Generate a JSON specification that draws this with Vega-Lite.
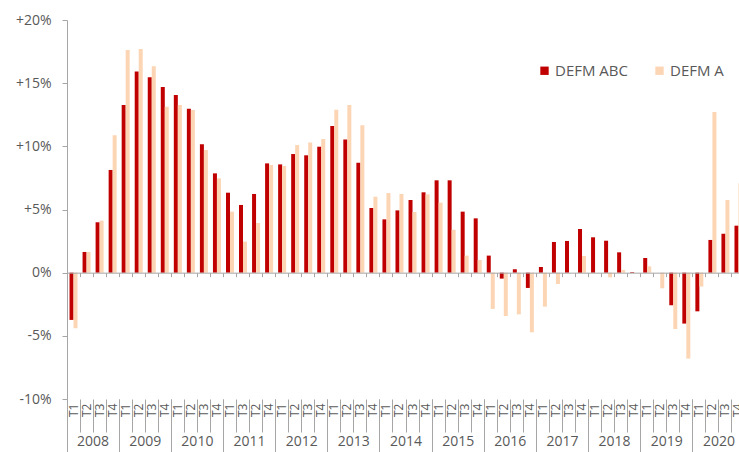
{
  "$schema": "https://vega.github.io/schema/vega-lite/v6.json",
  "autosize": {"type": "none"},
  "padding": {"left": 67, "top": 20, "right": 0, "bottom": 53},
  "width": 672,
  "height": 379,
  "config": {
    "view": {"stroke": null},
    "font": "Open Sans",
    "axis": {"labelFont": "Open Sans", "labelColor": "#595959", "domainColor": "#A6A6A6", "tickColor": "#A6A6A6", "grid": false, "title": null}
  },
  "data": {"values": [
    {"q":"2008 T1","year":"2008","series":"DEFM ABC","value":-3.74},
    {"q":"2008 T2","year":"2008","series":"DEFM ABC","value":1.64},
    {"q":"2008 T3","year":"2008","series":"DEFM ABC","value":3.99},
    {"q":"2008 T4","year":"2008","series":"DEFM ABC","value":8.13},
    {"q":"2009 T1","year":"2009","series":"DEFM ABC","value":13.27},
    {"q":"2009 T2","year":"2009","series":"DEFM ABC","value":15.93},
    {"q":"2009 T3","year":"2009","series":"DEFM ABC","value":15.46},
    {"q":"2009 T4","year":"2009","series":"DEFM ABC","value":14.69},
    {"q":"2010 T1","year":"2010","series":"DEFM ABC","value":14.06},
    {"q":"2010 T2","year":"2010","series":"DEFM ABC","value":12.98},
    {"q":"2010 T3","year":"2010","series":"DEFM ABC","value":10.16},
    {"q":"2010 T4","year":"2010","series":"DEFM ABC","value":7.86},
    {"q":"2011 T1","year":"2011","series":"DEFM ABC","value":6.33},
    {"q":"2011 T3","year":"2011","series":"DEFM ABC","value":5.36},
    {"q":"2011 T2","year":"2011","series":"DEFM ABC","value":6.23},
    {"q":"2011 T4","year":"2011","series":"DEFM ABC","value":8.65},
    {"q":"2012 T1","year":"2012","series":"DEFM ABC","value":8.57},
    {"q":"2012 T2","year":"2012","series":"DEFM ABC","value":9.39},
    {"q":"2012 T3","year":"2012","series":"DEFM ABC","value":9.29},
    {"q":"2012 T4","year":"2012","series":"DEFM ABC","value":9.97},
    {"q":"2013 T1","year":"2013","series":"DEFM ABC","value":11.6},
    {"q":"2013 T2","year":"2013","series":"DEFM ABC","value":10.55},
    {"q":"2013 T3","year":"2013","series":"DEFM ABC","value":8.7},
    {"q":"2013 T4","year":"2013","series":"DEFM ABC","value":5.12},
    {"q":"2014 T1","year":"2014","series":"DEFM ABC","value":4.22},
    {"q":"2014 T2","year":"2014","series":"DEFM ABC","value":4.93},
    {"q":"2014 T3","year":"2014","series":"DEFM ABC","value":5.75},
    {"q":"2014 T4","year":"2014","series":"DEFM ABC","value":6.36},
    {"q":"2015 T1","year":"2015","series":"DEFM ABC","value":7.31},
    {"q":"2015 T2","year":"2015","series":"DEFM ABC","value":7.31},
    {"q":"2015 T3","year":"2015","series":"DEFM ABC","value":4.83},
    {"q":"2015 T4","year":"2015","series":"DEFM ABC","value":4.3},
    {"q":"2016 T1","year":"2016","series":"DEFM ABC","value":1.35},
    {"q":"2016 T2","year":"2016","series":"DEFM ABC","value":-0.47},
    {"q":"2016 T3","year":"2016","series":"DEFM ABC","value":0.27},
    {"q":"2016 T4","year":"2016","series":"DEFM ABC","value":-1.21},
    {"q":"2017 T1","year":"2017","series":"DEFM ABC","value":0.45},
    {"q":"2017 T2","year":"2017","series":"DEFM ABC","value":2.43},
    {"q":"2017 T3","year":"2017","series":"DEFM ABC","value":2.51},
    {"q":"2017 T4","year":"2017","series":"DEFM ABC","value":3.46},
    {"q":"2018 T1","year":"2018","series":"DEFM ABC","value":2.8},
    {"q":"2018 T2","year":"2018","series":"DEFM ABC","value":2.53},
    {"q":"2018 T3","year":"2018","series":"DEFM ABC","value":1.61},
    {"q":"2018 T4","year":"2018","series":"DEFM ABC","value":0.05},
    {"q":"2019 T1","year":"2019","series":"DEFM ABC","value":1.16},
    {"q":"2019 T2","year":"2019","series":"DEFM ABC","value":0},
    {"q":"2019 T3","year":"2019","series":"DEFM ABC","value":-2.58},
    {"q":"2019 T4","year":"2019","series":"DEFM ABC","value":-4.03},
    {"q":"2020 T1","year":"2020","series":"DEFM ABC","value":-3.06},
    {"q":"2020 T2","year":"2020","series":"DEFM ABC","value":2.59},
    {"q":"2020 T3","year":"2020","series":"DEFM ABC","value":3.08},
    {"q":"2020 T4","year":"2020","series":"DEFM ABC","value":3.72},
    {"q":"2008 T1","year":"2008","series":"DEFM A","value":-4.4},
    {"q":"2008 T2","year":"2008","series":"DEFM A","value":1.64},
    {"q":"2008 T3","year":"2008","series":"DEFM A","value":4.12},
    {"q":"2008 T4","year":"2008","series":"DEFM A","value":10.87},
    {"q":"2009 T1","year":"2009","series":"DEFM A","value":17.62},
    {"q":"2009 T2","year":"2009","series":"DEFM A","value":17.7},
    {"q":"2009 T3","year":"2009","series":"DEFM A","value":16.33},
    {"q":"2009 T4","year":"2009","series":"DEFM A","value":13.14},
    {"q":"2010 T1","year":"2010","series":"DEFM A","value":13.27},
    {"q":"2010 T2","year":"2010","series":"DEFM A","value":12.87},
    {"q":"2010 T3","year":"2010","series":"DEFM A","value":9.71},
    {"q":"2010 T4","year":"2010","series":"DEFM A","value":7.47},
    {"q":"2011 T1","year":"2011","series":"DEFM A","value":4.83},
    {"q":"2011 T3","year":"2011","series":"DEFM A","value":2.46},
    {"q":"2011 T2","year":"2011","series":"DEFM A","value":3.93},
    {"q":"2011 T4","year":"2011","series":"DEFM A","value":8.52},
    {"q":"2012 T1","year":"2012","series":"DEFM A","value":8.44},
    {"q":"2012 T2","year":"2012","series":"DEFM A","value":10.1},
    {"q":"2012 T3","year":"2012","series":"DEFM A","value":10.31},
    {"q":"2012 T4","year":"2012","series":"DEFM A","value":10.58},
    {"q":"2013 T1","year":"2013","series":"DEFM A","value":12.9},
    {"q":"2013 T2","year":"2013","series":"DEFM A","value":13.27},
    {"q":"2013 T3","year":"2013","series":"DEFM A","value":11.66},
    {"q":"2013 T4","year":"2013","series":"DEFM A","value":6.01},
    {"q":"2014 T1","year":"2014","series":"DEFM A","value":6.3},
    {"q":"2014 T2","year":"2014","series":"DEFM A","value":6.23},
    {"q":"2014 T3","year":"2014","series":"DEFM A","value":4.8},
    {"q":"2014 T4","year":"2014","series":"DEFM A","value":6.2},
    {"q":"2015 T1","year":"2015","series":"DEFM A","value":5.54},
    {"q":"2015 T2","year":"2015","series":"DEFM A","value":3.4},
    {"q":"2015 T3","year":"2015","series":"DEFM A","value":1.35},
    {"q":"2015 T4","year":"2015","series":"DEFM A","value":1.0},
    {"q":"2016 T1","year":"2016","series":"DEFM A","value":-2.87},
    {"q":"2016 T2","year":"2016","series":"DEFM A","value":-3.43},
    {"q":"2016 T3","year":"2016","series":"DEFM A","value":-3.3},
    {"q":"2016 T4","year":"2016","series":"DEFM A","value":-4.72},
    {"q":"2017 T1","year":"2017","series":"DEFM A","value":-2.69},
    {"q":"2017 T2","year":"2017","series":"DEFM A","value":-0.9},
    {"q":"2017 T3","year":"2017","series":"DEFM A","value":0},
    {"q":"2017 T4","year":"2017","series":"DEFM A","value":1.32},
    {"q":"2018 T1","year":"2018","series":"DEFM A","value":0},
    {"q":"2018 T2","year":"2018","series":"DEFM A","value":-0.37},
    {"q":"2018 T3","year":"2018","series":"DEFM A","value":0.21},
    {"q":"2018 T4","year":"2018","series":"DEFM A","value":0},
    {"q":"2019 T1","year":"2019","series":"DEFM A","value":0.5},
    {"q":"2019 T2","year":"2019","series":"DEFM A","value":-1.24},
    {"q":"2019 T3","year":"2019","series":"DEFM A","value":-4.46},
    {"q":"2019 T4","year":"2019","series":"DEFM A","value":-6.8},
    {"q":"2020 T1","year":"2020","series":"DEFM A","value":-1.1},
    {"q":"2020 T2","year":"2020","series":"DEFM A","value":12.71},
    {"q":"2020 T3","year":"2020","series":"DEFM A","value":5.75},
    {"q":"2020 T4","year":"2020","series":"DEFM A","value":7.07}
  ]},
  "layer": [
    {
      "mark": {"type": "bar"},
      "encoding": {
        "x": {"field": "q", "type": "nominal", "sort": null,
          "scale": {"type": "band", "range": [0, 678], "paddingInner": 0, "paddingOuter": 0},
          "axis": {"orient": "bottom", "offset": -126.33, "labels": false, "bandPosition": 0, "tickSize": 4, "zindex": 1}},
        "xOffset": {"field": "series", "type": "nominal",
          "scale": {"domain": ["DEFM ABC", "DEFM A"], "paddingOuter": 0.63, "paddingInner": 0}},
        "y": {"field": "value", "type": "quantitative",
          "scale": {"domain": [-10, 20], "nice": false},
          "axis": {"values": [-10, -5, 0, 5, 10, 15, 20], "labelExpr": "(datum.value > 0 ? '+' : '') + datum.value + '%'", "tickSize": 5, "labelPadding": 11, "labelFontSize": 14}},
        "color": {"field": "series", "type": "nominal",
          "scale": {"domain": ["DEFM ABC", "DEFM A"], "range": ["#C00000", "#FCD5B4"]},
          "legend": {"title": null, "orient": "none", "legendX": 470, "legendY": 43, "direction": "horizontal", "symbolType": "square", "symbolSize": 70, "symbolStrokeWidth": 0, "labelFontSize": 15, "labelFont": "Open Sans", "labelColor": "#595959", "columnPadding": 24, "labelOffset": 3}}
      }
    },
    {
      "mark": {"type": "point", "opacity": 0},
      "encoding": {
        "x": {"field": "q", "type": "nominal", "sort": null,
          "scale": {"type": "band", "range": [0, 678], "paddingInner": 0, "paddingOuter": 0},
          "axis": {"orient": "bottom", "domain": false, "labelExpr": "substring(datum.value, 5)", "labelAngle": 270, "labelFontSize": 12, "tickSize": 33, "labelPadding": -29, "bandPosition": 0, "labelOverlap": false, "labelBound": false, "labelFlush": false}}
      }
    },
    {
      "mark": {"type": "point", "opacity": 0},
      "encoding": {
        "x": {"field": "year", "type": "nominal", "sort": null,
          "scale": {"type": "band", "range": [0, 678], "paddingInner": 0, "paddingOuter": 0},
          "axis": {"orient": "bottom", "domain": false, "bandPosition": 0, "tickSize": 53, "labelPadding": -18, "labelBaseline": "top", "labelAngle": 0, "labelFontSize": 14, "labelOverlap": false, "labelBound": false, "labelFlush": false}}
      }
    }
  ],
  "resolve": {"scale": {"x": "independent"}}
}
